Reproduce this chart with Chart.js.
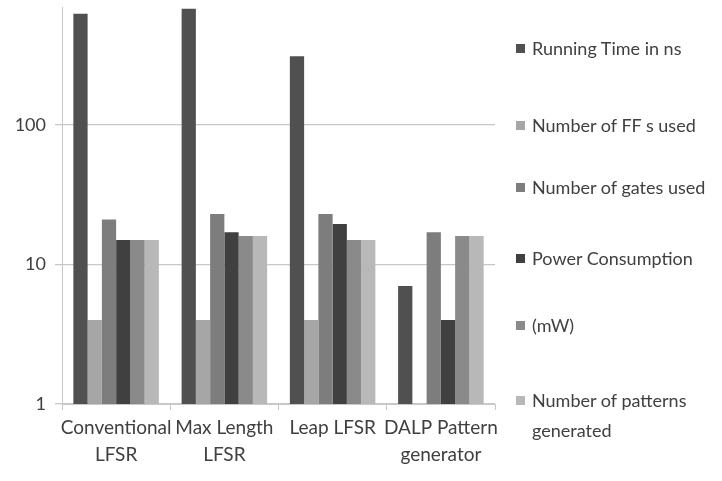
<!DOCTYPE html>
<html>
<head>
<meta charset="utf-8">
<script src="https://cdn.jsdelivr.net/npm/chart.js@4.4.0/dist/chart.umd.min.js"></script>
<style>
  body { margin: 0; background: #fff; }
  #wrap { position: relative; width: 722px; height: 481px; }
  #legenda { position: absolute; left: 0; top: 0; }
  .voce { position: absolute; left: 516px; display: flex; font-family: Lato, sans-serif; font-size: 18px; line-height: 30px; color: #404040; }
  .voce span.box { width: 9px; height: 9px; margin-top: 11px; margin-right: 7px; flex: none; }
  .voce span.txt { width: 185px; }
</style>
</head>
<body>
<div id="wrap">
  <canvas id="myChart" width="722" height="481"></canvas>
  <div id="legenda"></div>
</div>
<script>
var categorie = [['Conventional', 'LFSR'], ['Max Length', 'LFSR'], 'Leap LFSR', ['DALP Pattern', 'generator']];
var serieNomi = ['Running Time in ns', 'Number of FF s used', 'Number of gates used', 'Power Consumption', '(mW)', 'Number of patterns generated'];

var runningTime = [625, 680, 310, 7];
var numFF = [4, 4, 4, null];
var numGates = [21, 23, 23, 17];
var powerCons = [15, 17, 19.5, 4];
var mW = [15, 16, 15, 16];
var numPatterns = [15, 16, 15, 16];

var tickY = [1, 10, 100];

var colori = ['#505050', '#a6a6a6', '#7d7d7d', '#404040', '#8a8a8a', '#b8b8b8'];
var legendTop = [33, 110, 172, 243, 310, 385];

var valori = [runningTime, numFF, numGates, powerCons, mW, numPatterns];
var datasets = [];
for (var i = 0; i < serieNomi.length; i++) {
  datasets.push({
    label: serieNomi[i],
    data: valori[i],
    backgroundColor: colori[i],
    borderWidth: 0,
    barPercentage: 1,
    categoryPercentage: 0.79
  });
}

var ctx = document.getElementById('myChart');
var chart = new Chart(ctx, {
  type: 'bar',
  data: {
    labels: categorie,
    datasets: datasets
  },
  options: {
    responsive: false,
    animation: false,
    layout: { padding: { top: 7, right: 227, left: 0, bottom: 0 } },
    plugins: {
      legend: { display: false },
      tooltip: { enabled: false }
    },
    scales: {
      x: {
        grid: { drawOnChartArea: false, drawTicks: true, tickLength: 6, color: '#c8c8c8', offset: true },
        border: { color: '#c8c8c8' },
        ticks: {
          color: '#404040',
          font: { family: 'Lato', size: 19, lineHeight: 1.42 },
          padding: 4,
          autoSkip: false,
          maxRotation: 0
        },
        afterFit: function(scale) { scale.height = 77; scale.paddingLeft = 0; scale.paddingRight = 0; }
      },
      y: {
        type: 'logarithmic',
        min: 1,
        max: 700,
        afterBuildTicks: function(axis) {
          axis.ticks = tickY.map(function(v) { return { value: v }; });
        },
        grid: { color: '#c8c8c8', tickLength: 7, lineWidth: 1.3 },
        border: { color: '#c8c8c8' },
        ticks: {
          color: '#404040',
          font: { family: 'Lato', size: 18 },
          padding: 9,
          callback: function(v) { return v; }
        },
        afterFit: function(scale) { scale.width = 62; scale.paddingTop = 0; scale.paddingBottom = 0; }
      }
    }
  }
});

// legenda html
var leg = document.getElementById('legenda');
for (var j = 0; j < chart.data.datasets.length; j++) {
  var ds = chart.data.datasets[j];
  var div = document.createElement('div');
  div.className = 'voce';
  div.style.top = legendTop[j] + 'px';
  div.innerHTML = '<span class="box" style="background:' + ds.backgroundColor + '"></span><span class="txt">' + ds.label + '</span>';
  leg.appendChild(div);
}
</script>
</body>
</html>
